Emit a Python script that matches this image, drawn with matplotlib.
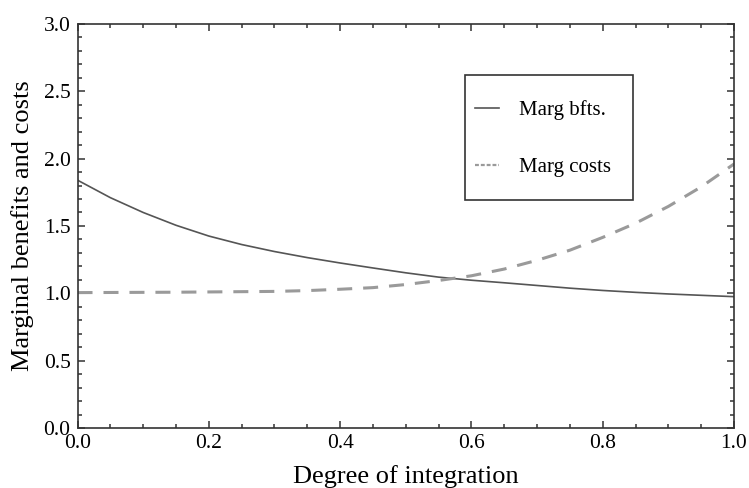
import numpy as np
import matplotlib
matplotlib.use("Agg")
import matplotlib.pyplot as plt
from matplotlib.lines import Line2D
from matplotlib.patches import Rectangle
from matplotlib.ticker import MultipleLocator

plt.rcParams['font.family'] = ['Liberation Serif', 'DejaVu Serif']
plt.rcParams['lines.scale_dashes'] = False

# values
x_vals = [0.00, 0.05, 0.10, 0.15, 0.20, 0.25, 0.30, 0.35, 0.40, 0.45, 0.50,
          0.55, 0.60, 0.65, 0.70, 0.75, 0.80, 0.85, 0.90, 0.95, 1.00]
marg_benefits = [1.84, 1.71, 1.60, 1.505, 1.425, 1.362, 1.31, 1.265, 1.225, 1.188, 1.152,
                 1.12, 1.097, 1.078, 1.058, 1.038, 1.021, 1.007, 0.995, 0.985, 0.975]
marg_costs = [1.005, 1.006, 1.007, 1.008, 1.01, 1.012, 1.014, 1.02, 1.03, 1.042, 1.065,
              1.095, 1.13, 1.18, 1.245, 1.32, 1.415, 1.52, 1.645, 1.79, 1.96]
series_labels = ['Marg bfts.', 'Marg costs']

benefit_color = '#555555'
cost_color = '#9a9a9a'

fig = plt.figure(figsize=(7.49, 4.88), dpi=100)
ax = fig.add_axes([0.1035, 0.123, 0.8765, 0.828])

ax.plot(x_vals, marg_benefits, color=benefit_color, lw=1.2)
ax.plot(x_vals, marg_costs, color=cost_color, lw=2.2, dashes=(10.8, 7.9))

ax.set_xlim(0, 1)
ax.set_ylim(0, 3)
ax.xaxis.set_major_locator(MultipleLocator(0.2))
ax.xaxis.set_minor_locator(MultipleLocator(0.05))
ax.yaxis.set_major_locator(MultipleLocator(0.5))
ax.yaxis.set_minor_locator(MultipleLocator(0.1))
ax.xaxis.set_major_formatter(plt.FormatStrFormatter('%.1f'))
ax.yaxis.set_major_formatter(plt.FormatStrFormatter('%.1f'))

ax.tick_params(which='both', direction='in', top=True, right=True,
               color='#333333', width=1.1, labelsize=15.5)
ax.tick_params(which='major', length=5)
ax.tick_params(which='minor', length=3)
ax.tick_params(axis='x', pad=4)
ax.tick_params(axis='y', pad=5)
for sp in ax.spines.values():
    sp.set_color('#333333')
    sp.set_linewidth(1.2)

ax.set_xlabel('Degree of integration', fontsize=19, labelpad=9)
ax.set_ylabel('Marginal benefits and costs', fontsize=19, labelpad=7)

# legend box
ax.add_patch(Rectangle((0.590, 0.564), 0.256, 0.310, transform=ax.transAxes,
                       fill=False, edgecolor='#333333', lw=1.2, zorder=5))
handles = [Line2D([], [], color=benefit_color, lw=1.2),
           Line2D([], [], color=cost_color, lw=1.6, dashes=(2.8, 1.4))]
ax.legend(handles, series_labels, loc='center left',
          bbox_to_anchor=(0.5905, 0.716), frameon=False, fontsize=15,
          handlelength=1.15, handletextpad=1.0, labelspacing=1.8,
          borderpad=0.0, borderaxespad=0.45)

fig.savefig('out.png', dpi=100)
